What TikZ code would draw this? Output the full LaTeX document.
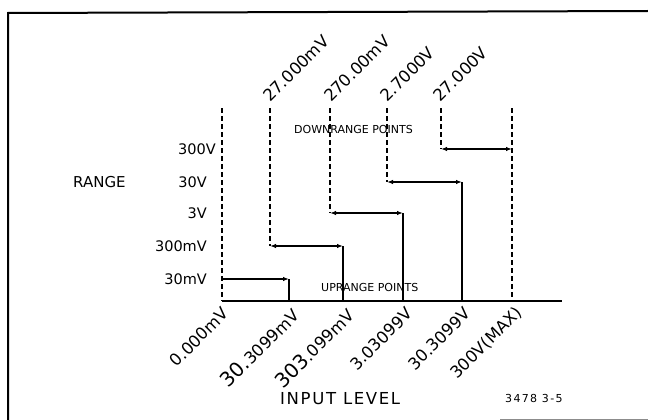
\documentclass[tikz,border=0pt]{standalone}
\usepackage{fontspec}
\setmainfont{DejaVu Sans}
\newfontfamily\plotA{DejaVu Sans}
\newfontfamily\plotB[LetterSpace=10]{DejaVu Sans}
\newfontfamily\plotC[LetterSpace=12]{DejaVu Sans}
\usetikzlibrary{arrows.meta}
\tikzset{
  lbl/.style={inner sep=0pt, font=\plotA\fontsize{14.5}{17}\selectfont},
  rotlbl/.style={inner sep=0pt, rotate=45, font=\plotA\fontsize{16.5}{19}\selectfont},
  smalllbl/.style={inner sep=0pt, font=\plotA\fontsize{11}{13}\selectfont},
  dashln/.style={line width=1.1pt, dash pattern=on 5pt off 3pt},
  solidln/.style={line width=1.2pt},
  baseln/.style={line width=1.4pt},
  onearrow/.style={line width=1.2pt, -{Latex[length=6pt,width=4.5pt]}},
  dblarrow/.style={line width=1.2pt, {Latex[length=6pt,width=4.5pt]}-{Latex[length=6pt,width=4.5pt]}},
  frameln/.style={line width=2pt}
}
\begin{document}
\begin{tikzpicture}[x=1pt,y=-1pt]
\useasboundingbox (0,0) rectangle (648,420);
% frame
\coordinate (fTL) at (8,13);
\coordinate (fTR) at (648,11);
\coordinate (fBL) at (8,420);
\draw[frameln] (fBL) -- (fTL) -- (fTR);
\coordinate (fB1) at (500,419);
\coordinate (fB2) at (648,419);
\draw[line width=1pt, black!45] (fB1) -- (fB2);

% baseline
\coordinate (b0) at (222,301);
\coordinate (bend) at (562,301);
\draw[baseln] (b0) -- (bend);

% full-height dashed lines
\coordinate (t0) at (222,108);
\coordinate (t5) at (512,108);
\coordinate (b5) at (512,301);
\draw[dashln] (t0) -- (b0);
\draw[dashln] (t5) -- (b5);

% downrange dashed lines
\coordinate (d1t) at (270,108); \coordinate (d1m) at (270,246);
\coordinate (d2t) at (330,108); \coordinate (d2m) at (330,213);
\coordinate (d3t) at (387,108); \coordinate (d3m) at (387,182);
\coordinate (d4t) at (441,108); \coordinate (d4m) at (441,149);
\draw[dashln] (d1t) -- (d1m);
\draw[dashln] (d2t) -- (d2m);
\draw[dashln] (d3t) -- (d3m);
\draw[dashln] (d4t) -- (d4m);

% uprange solid lines
\coordinate (s1b) at (289,301); \coordinate (s1m) at (289,279);
\coordinate (s2b) at (343,301); \coordinate (s2m) at (343,246);
\coordinate (s3b) at (403,301); \coordinate (s3m) at (403,213);
\coordinate (s4b) at (462,301); \coordinate (s4m) at (462,182);
\draw[solidln] (s1b) -- (s1m);
\draw[solidln] (s2b) -- (s2m);
\draw[solidln] (s3b) -- (s3m);
\draw[solidln] (s4b) -- (s4m);

% arrows
\coordinate (a0) at (222,279);
\coordinate (a5) at (512,149);
\draw[onearrow] (a0) -- (s1m);
\draw[dblarrow] (d1m) -- (s2m);
\draw[dblarrow] (d2m) -- (s3m);
\draw[dblarrow] (d3m) -- (s4m);
\draw[dblarrow] (d4m) -- (a5);

% range labels
\node[lbl, anchor=base east] (r300V) at (216,154.5) {300V};
\node[lbl, anchor=base east] (r30V) at (207,187.5) {30V};
\node[lbl, anchor=base east] (r3V) at (207,218.5) {3V};
\node[lbl, anchor=base east] (r300mV) at (207,251.5) {300mV};
\node[lbl, anchor=base east] (r30mV) at (207,284.5) {30mV};
\node[lbl, anchor=base west, font=\plotA\fontsize{15}{18}\selectfont] (range) at (73,187.5) {RANGE};

% top rotated labels
\node[rotlbl, anchor=base west] (u1) at (270,103) {27.000mV};
\node[rotlbl, anchor=base west] (u2) at (331,103) {270.00mV};
\node[rotlbl, anchor=base west] (u3) at (387,103) {2.7000V};
\node[rotlbl, anchor=base west] (u4) at (440,103) {27.000V};

% bottom rotated labels
\node[rotlbl, anchor=north east] (l0) at (221,306) {0.000mV};
\node[rotlbl, anchor=north east] (l1) at (290,306) {{\fontsize{20}{22}\selectfont 30.}3099mV};
\node[rotlbl, anchor=north east] (l2) at (345,306) {{\fontsize{20}{22}\selectfont 303}.099mV};
\node[rotlbl, anchor=north east] (l3) at (405,306) {3.03099V};
\node[rotlbl, anchor=north east] (l4) at (463,306) {30.3099V};
\node[rotlbl, anchor=north east] (l5) at (514,305) {300V(MAX)};

% captions
\node[smalllbl, anchor=base west] (down) at (294,133) {DOWNRANGE POINTS};
\node[smalllbl, anchor=base west] (up) at (321,291) {UPRANGE POINTS};
\node[inner sep=0pt, anchor=base west, font=\plotB\fontsize{16.5}{19}\selectfont] (input) at (280,404) {INPUT LEVEL};
\node[inner sep=0pt, anchor=base west, font=\plotC\fontsize{11}{13}\selectfont] (fig) at (505,402) {3478 3-5};
\end{tikzpicture}
\end{document}
